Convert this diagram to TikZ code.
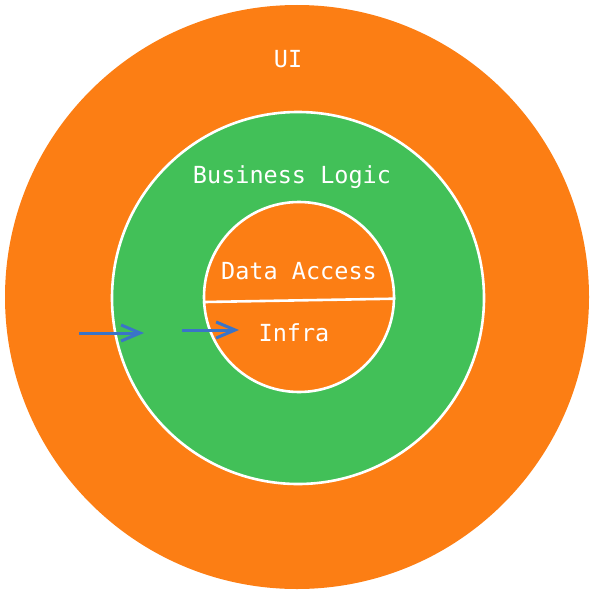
\documentclass[tikz,border=0pt]{standalone}
\usepackage{fontspec}
\setmonofont{DejaVu Sans Mono}
\usetikzlibrary{arrows.meta}
\definecolor{layerorange}{RGB}{252,126,20}
\definecolor{layergreen}{RGB}{66,192,88}
\definecolor{flowblue}{RGB}{58,116,200}
\tikzset{
  layer/.style={circle,inner sep=0pt,minimum size=#1},
  layertext/.style={text=white,font=\ttfamily\fontsize{23.5}{28}\selectfont},
  flow/.style={flowblue,line width=3pt,-{Straight Barb[length=19pt,width=16pt]}}
}
\begin{document}
\begin{tikzpicture}[x=1pt,y=-1pt]
        \useasboundingbox (0,0) rectangle (594,594);
        \node[layer=584pt,fill=layerorange] (ui) at (297,297) {};
        \node[layer=372pt,fill=layergreen,draw=white,line width=2.6pt] (logic) at (298,298) {};
        \node[layer=190pt,fill=layerorange,draw=white,line width=2.6pt] (data) at (299,297) {};
        \draw[white,line width=2.6pt] (data.183.6) -- (data.-1.2);
        \node[layertext] (uitext) at (288,59) {UI};
        \node[layertext] (logictext) at (292,177) {Business Logic};
        \node[layertext] (datatext) at (299,271) {Data Access};
        \node[layertext] (infratext) at (294,333) {Infra};
        \coordinate (from1) at (79,333);
        \coordinate (to1) at (144,333);
        \coordinate (from2) at (182,330);
        \coordinate (to2) at (239,330);
        \draw[flow] (from1) -- (to1);
        \draw[flow] (from2) -- (to2);
\end{tikzpicture}
\end{document}
